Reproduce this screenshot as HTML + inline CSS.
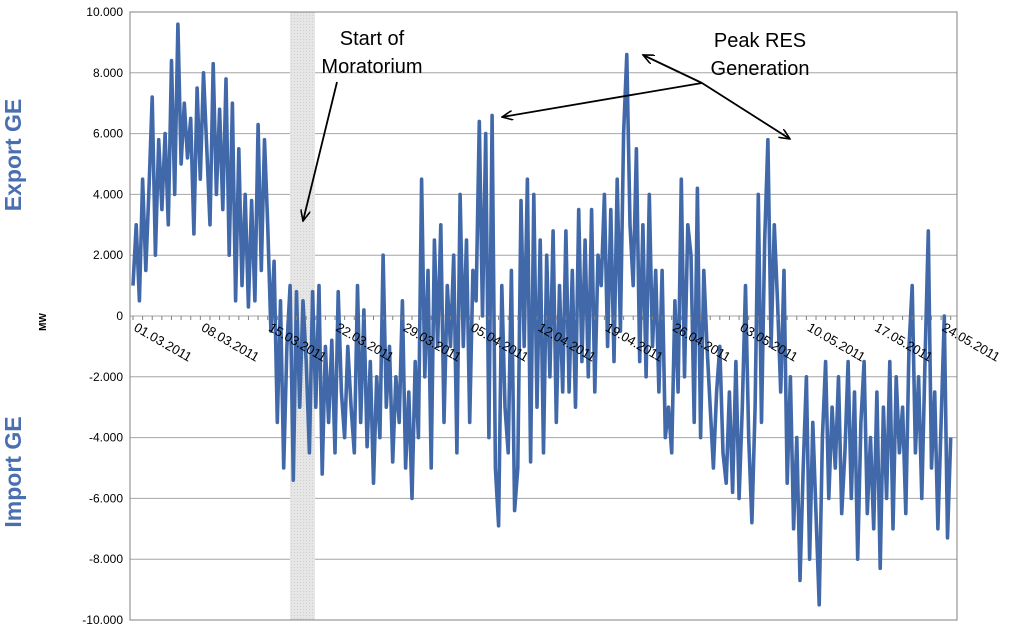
<!DOCTYPE html>
<html><head><meta charset="utf-8"><style>
body{margin:0;background:#fff;}
svg{display:block;font-family:"Liberation Sans",sans-serif;}
</style></head><body>
<svg width="1015" height="630" viewBox="0 0 1015 630">
<defs>
<pattern id="hatch" width="3" height="3" patternUnits="userSpaceOnUse"><rect width="3" height="3" fill="#e6e6e6"/><rect width="1" height="1" fill="#cfcfcf"/></pattern>
<marker id="arr" markerWidth="12" markerHeight="10" refX="11" refY="5" orient="auto" markerUnits="userSpaceOnUse"><path d="M0,0 L11,5 L0,10" fill="none" stroke="#000" stroke-width="1.6"/></marker>
</defs>
<g id="grid"></g>
<rect x="290" y="12" width="25" height="608" fill="url(#hatch)"/>
<g id="series"></g>
<g id="axes"></g>
<text x="21" y="155" transform="rotate(-90 21 155)" text-anchor="middle" font-size="23" font-weight="bold" fill="#4a6fb0">Export GE</text>
<text x="21" y="472" transform="rotate(-90 21 472)" text-anchor="middle" font-size="23" font-weight="bold" fill="#4a6fb0">Import GE</text>
<text x="46" y="322" transform="rotate(-90 46 322)" text-anchor="middle" font-size="10" font-weight="bold" fill="#000">MW</text>
<g>
<text x="372" y="45" text-anchor="middle" font-size="20">Start of</text>
<text x="372" y="73" text-anchor="middle" font-size="20">Moratorium</text>
<line x1="337" y1="82" x2="303" y2="221" stroke="#000" stroke-width="1.8" marker-end="url(#arr)"/>
</g>
<g>
<text x="760" y="47" text-anchor="middle" font-size="20">Peak RES</text>
<text x="760" y="75" text-anchor="middle" font-size="20">Generation</text>
<line x1="702" y1="83" x2="502" y2="117" stroke="#000" stroke-width="1.8" marker-end="url(#arr)"/>
<line x1="702" y1="83" x2="643" y2="55" stroke="#000" stroke-width="1.8" marker-end="url(#arr)"/>
<line x1="702" y1="83" x2="790" y2="139" stroke="#000" stroke-width="1.8" marker-end="url(#arr)"/>
</g>
</svg>
<script>
const yTicks=[10000,8000,6000,4000,2000,0,-2000,-4000,-6000,-8000,-10000];
const yTickLabels=["10.000","8.000","6.000","4.000","2.000","0","-2.000","-4.000","-6.000","-8.000","-10.000"];
const xTickDays=[0,7,14,21,28,35,42,49,56,63,70,77,84];
const xTickLabels=["01.03.2011","08.03.2011","15.03.2011","22.03.2011","29.03.2011","05.04.2011","12.04.2011","19.04.2011","26.04.2011","03.05.2011","10.05.2011","17.05.2011","24.05.2011"];
const samplesPerDay=3;
const flowMW=[1000,3000,500,4500,1500,4200,7200,2000,5800,3500,6000,3000,8400,4000,9600,5000,7000,5200,6500,2700,7500,4500,8000,5500,3000,8300,4000,6800,3500,7800,2000,7000,500,5500,1000,4000,300,3800,500,6300,1500,5800,3000,-500,1800,-3500,500,-5000,-1000,1000,-5400,800,-3000,500,-1500,-4500,800,-3000,1000,-5200,-1000,-3500,-800,-4500,800,-2500,-4000,-1000,-3000,-4500,1000,-3500,200,-4300,-1500,-5500,-2000,-4000,2000,-3000,-1000,-4800,-2000,-3500,500,-5000,-2500,-6000,-1500,-4000,4500,-2000,1500,-5000,2500,-1000,3000,-3500,1000,-1000,2000,-4500,4000,-1000,2500,-3500,1500,500,6400,0,6000,-4000,6600,-5000,-6900,1000,-3000,-4500,1500,-6400,-5000,3800,-1000,4500,-4800,4000,-3000,2500,-4500,2000,-2000,2800,-3500,1000,-2500,2800,-2500,1500,-3000,3500,-1500,2500,-2000,3500,-2500,2000,1000,4000,-1000,3500,-1500,4500,-500,6000,8600,3000,1000,5500,-1500,3000,-2000,4000,-1000,1500,-2500,1500,-4000,-3000,-4500,500,-2500,4500,-2000,3000,2000,-3500,4200,-4000,1500,-1000,-3000,-5000,-2500,-1000,-4500,-5500,-2500,-5800,-1500,-6000,-3000,1000,-4000,-6800,-3000,4000,-3500,2500,5800,-1000,3000,500,-2500,1500,-5500,-2000,-7000,-4000,-8700,-5000,-2000,-8000,-3500,-6500,-9500,-4000,-1500,-6000,-3000,-5000,-2000,-6500,-4500,-1500,-6000,-2500,-8000,-3500,-1500,-6500,-4000,-7000,-2500,-8300,-3000,-6000,-1500,-7000,-2000,-4500,-3000,-6500,-1000,1000,-4500,-2000,-6000,-1500,2800,-5000,-2500,-7000,-3500,0,-7300,-4000];

const L=130,R=957,T=12,B=620,x0=133,pxDay=9.62;
const yS=v=>T+(10000-v)/20000*(B-T);
const xS=d=>x0+d*pxDay;
const NS='http://www.w3.org/2000/svg';
function mk(t,a,p){const e=document.createElementNS(NS,t);for(const k in a)e.setAttribute(k,a[k]);p.appendChild(e);return e;}
const grid=document.getElementById('grid'),axes=document.getElementById('axes'),series=document.getElementById('series');
yTicks.forEach((v,i)=>{
  if(v!==10000&&v!==-10000){const g=mk('line',{x1:L,x2:R,y1:yS(v),y2:yS(v),stroke:'#a6a6a6','stroke-width':1},grid);
  
  }
  const t=mk('text',{x:123,y:yS(v)+4,'text-anchor':'end','font-size':12},axes);t.textContent=yTickLabels[i];
  
  
});
const frame=mk('rect',{x:L,y:T,width:R-L,height:B-T,fill:'none',stroke:'#808080','stroke-width':1},axes);


const pts=flowMW.map((v,i)=>xS(i/samplesPerDay).toFixed(1)+','+yS(v).toFixed(1)).join(' ');
const pl=mk('polyline',{points:pts,fill:'none',stroke:'#4169aa','stroke-width':3.6,'stroke-linejoin':'round'},series);


const z=yS(0);
for(let d=0;d<=85;d++){const tk=mk('line',{x1:xS(d),x2:xS(d),y1:z,y2:z+4,stroke:'#808080','stroke-width':1},axes);
  
  }
xTickDays.forEach((d,i)=>{
  const x=xS(d),y=z+14;
  const t=mk('text',{x:x,y:y,'font-size':13,transform:'rotate(30 '+x+' '+y+')'},axes);t.textContent=xTickLabels[i];
  
  
});
</script>
</body></html>
